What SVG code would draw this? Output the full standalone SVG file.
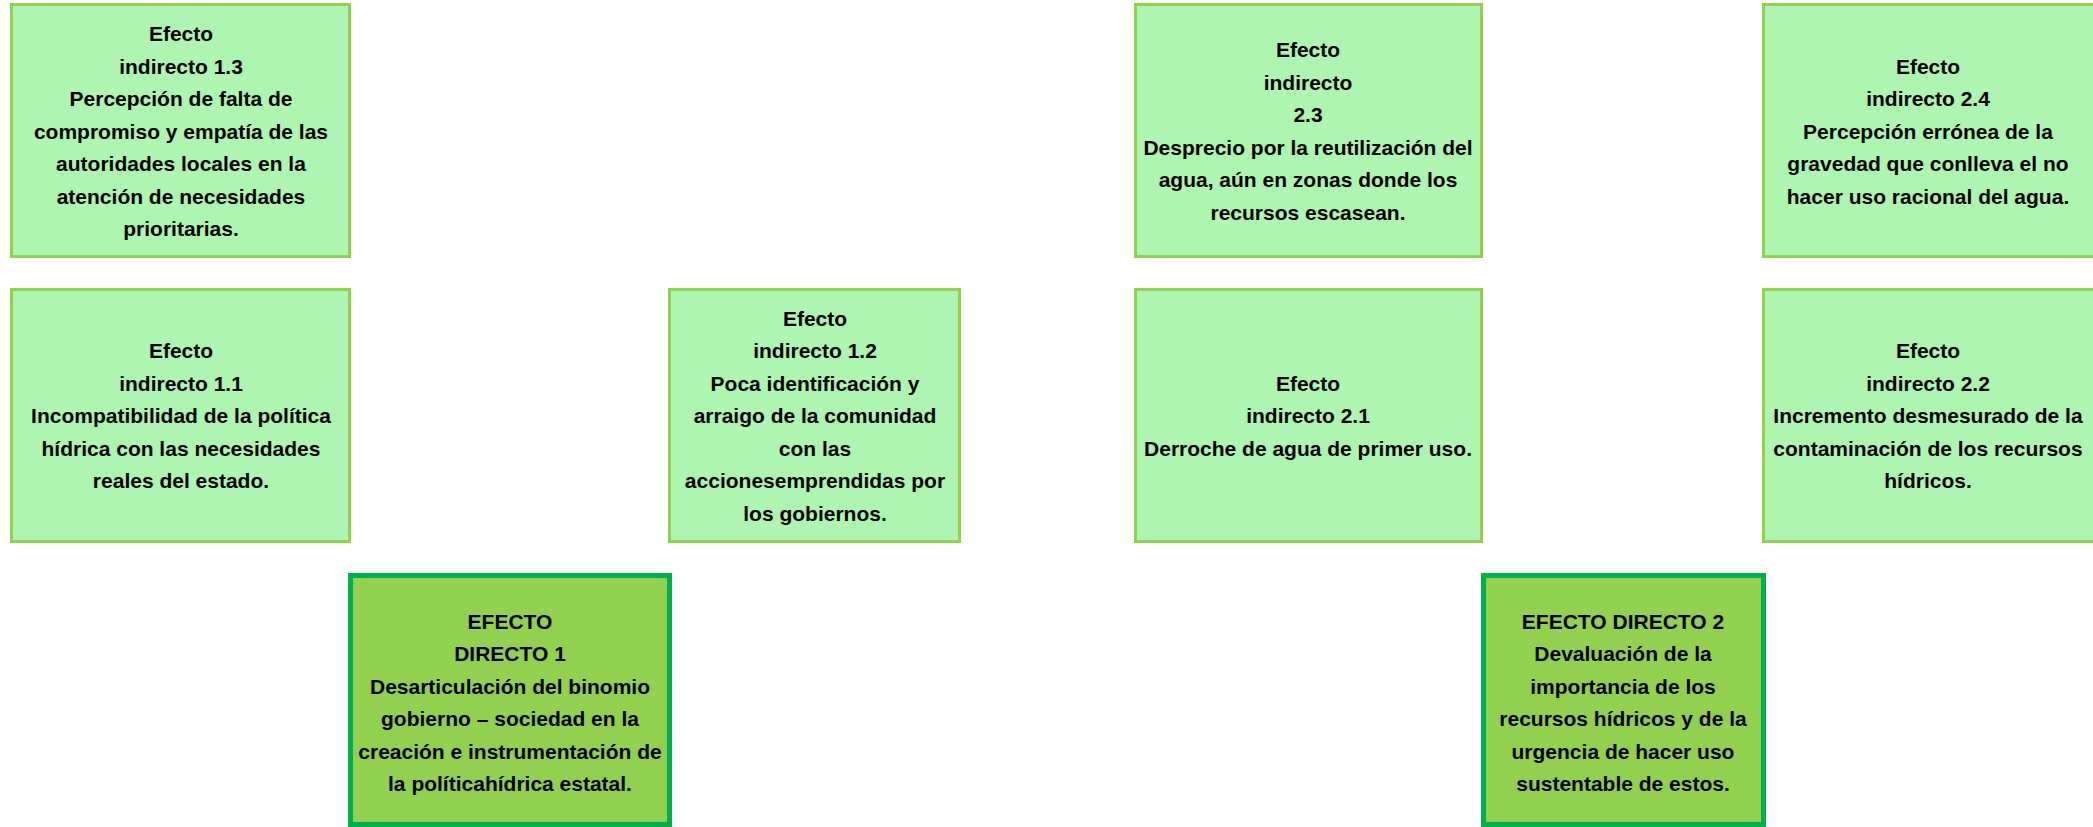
<svg xmlns="http://www.w3.org/2000/svg" width="2093" height="827" viewBox="0 0 2093 827">
<style>
.ind{fill:#ADF5B0;stroke:#92D050;stroke-width:3}
.dir{fill:#92D050;stroke:#00B050;stroke-width:5}
text{font-family:"Liberation Sans",Arial,sans-serif;font-weight:bold;font-size:21px;fill:#000;text-anchor:middle}
</style>
<rect width="2093" height="827" fill="#FFFFFF"/>
<g id="connectors"></g>
<g id="ei13">
<rect class="ind" x="11.5" y="4.5" width="338" height="252"/>
<text x="181"><tspan x="181" y="41">Efecto</tspan><tspan x="181" y="73.5">indirecto 1.3</tspan><tspan x="181" y="106">Percepción de falta de</tspan><tspan x="181" y="138.5">compromiso y empatía de las</tspan><tspan x="181" y="171">autoridades locales en la</tspan><tspan x="181" y="203.5">atención de necesidades</tspan><tspan x="181" y="236">prioritarias.</tspan></text>
</g>
<g id="ei23">
<rect class="ind" x="1135.5" y="4.5" width="346" height="252"/>
<text><tspan x="1308" y="57">Efecto</tspan><tspan x="1308" y="89.5">indirecto</tspan><tspan x="1308" y="122">2.3</tspan><tspan x="1308" y="154.5">Desprecio por la reutilización del</tspan><tspan x="1308" y="187">agua, aún en zonas donde los</tspan><tspan x="1308" y="219.5">recursos escasean.</tspan></text>
</g>
<g id="ei24">
<rect class="ind" x="1763.5" y="4.5" width="340" height="252"/>
<text><tspan x="1928" y="73.5">Efecto</tspan><tspan x="1928" y="106">indirecto 2.4</tspan><tspan x="1928" y="138.5">Percepción errónea de la</tspan><tspan x="1928" y="171">gravedad que conlleva el no</tspan><tspan x="1928" y="203.5">hacer uso racional del agua.</tspan></text>
</g>
<g id="ei11">
<rect class="ind" x="11.5" y="289.5" width="338" height="252"/>
<text><tspan x="181" y="358">Efecto</tspan><tspan x="181" y="390.5">indirecto 1.1</tspan><tspan x="181" y="423">Incompatibilidad de la política</tspan><tspan x="181" y="455.5">hídrica con las necesidades</tspan><tspan x="181" y="488">reales del estado.</tspan></text>
</g>
<g id="ei12">
<rect class="ind" x="669.5" y="289.5" width="290" height="252"/>
<text><tspan x="815" y="326">Efecto</tspan><tspan x="815" y="358">indirecto 1.2</tspan><tspan x="815" y="390.5">Poca identificación y</tspan><tspan x="815" y="423">arraigo de la comunidad</tspan><tspan x="815" y="455.5">con las</tspan><tspan x="815" y="488">accionesemprendidas por</tspan><tspan x="815" y="520.5">los gobiernos.</tspan></text>
</g>
<g id="ei21">
<rect class="ind" x="1135.5" y="289.5" width="346" height="252"/>
<text><tspan x="1308" y="390.5">Efecto</tspan><tspan x="1308" y="423">indirecto 2.1</tspan><tspan x="1308" y="455.5">Derroche de agua de primer uso.</tspan></text>
</g>
<g id="ei22">
<rect class="ind" x="1763.5" y="289.5" width="340" height="252"/>
<text><tspan x="1928" y="358">Efecto</tspan><tspan x="1928" y="390.5">indirecto 2.2</tspan><tspan x="1928" y="423">Incremento desmesurado de la</tspan><tspan x="1928" y="455.5">contaminación de los recursos</tspan><tspan x="1928" y="488">hídricos.</tspan></text>
</g>
<g id="ed1">
<rect class="dir" x="350.5" y="575.5" width="319" height="249"/>
<text><tspan x="510" y="628.5">EFECTO</tspan><tspan x="510" y="661">DIRECTO 1</tspan><tspan x="510" y="693.5">Desarticulación del binomio</tspan><tspan x="510" y="726">gobierno – sociedad en la</tspan><tspan x="510" y="758.5">creación e instrumentación de</tspan><tspan x="510" y="791">la políticahídrica estatal.</tspan></text>
</g>
<g id="ed2">
<rect class="dir" x="1483.5" y="575.5" width="280" height="249"/>
<text><tspan x="1623" y="628.5">EFECTO DIRECTO 2</tspan><tspan x="1623" y="661">Devaluación de la</tspan><tspan x="1623" y="693.5">importancia de los</tspan><tspan x="1623" y="726">recursos hídricos y de la</tspan><tspan x="1623" y="758.5">urgencia de hacer uso</tspan><tspan x="1623" y="791">sustentable de estos.</tspan></text>
</g>
</svg>
